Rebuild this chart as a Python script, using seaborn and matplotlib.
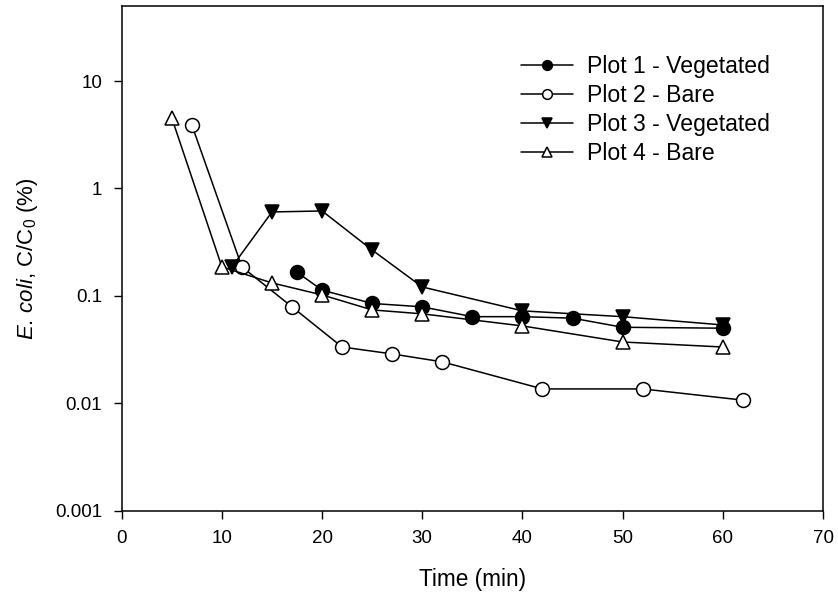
import matplotlib
matplotlib.use("Agg")
import matplotlib.pyplot as plt
import seaborn as sns
import pandas as pd
from matplotlib.ticker import FixedLocator, NullLocator, FixedFormatter

# Data
p1_time = [17.5, 20, 25, 30, 35, 40, 45, 50, 60]
p1_val = [0.166, 0.113, 0.085, 0.079, 0.064, 0.064, 0.062, 0.051, 0.050]
p2_time = [7, 12, 17, 22, 27, 32, 42, 52, 62]
p2_val = [3.90, 0.186, 0.079, 0.0334, 0.0288, 0.0243, 0.0136, 0.0136, 0.0107]
p3_time = [11, 15, 20, 25, 30, 40, 50, 60]
p3_val = [0.186, 0.604, 0.617, 0.267, 0.121, 0.0725, 0.064, 0.0536]
p4_time = [5, 10, 15, 20, 25, 30, 40, 50, 60]
p4_val = [4.53, 0.186, 0.132, 0.102, 0.074, 0.068, 0.0525, 0.0372, 0.0334]
labels = ["Plot 1 - Vegetated", "Plot 2 - Bare", "Plot 3 - Vegetated", "Plot 4 - Bare"]
y_ticks = [0.001, 0.01, 0.1, 1, 10]
y_ticklabels = ["0.001", "0.01", "0.1", "1", "10"]
x_ticks = [0, 10, 20, 30, 40, 50, 60, 70]

sns.set_theme(style="ticks")
plt.rcParams['font.family'] = ['Liberation Sans', 'DejaVu Sans']
plt.rcParams['mathtext.fontset'] = 'custom'
plt.rcParams['mathtext.rm'] = 'Liberation Sans'
plt.rcParams['mathtext.it'] = 'Liberation Sans:italic'

fig = plt.figure(figsize=(8.38, 5.98), dpi=100)
ax = fig.add_axes([121.7/838, 1 - 510.7/598, (823 - 121.7)/838, (510.7 - 6.3)/598])

series = [(p1_time, p1_val, 'o', 'black'),
          (p2_time, p2_val, 'o', 'white'),
          (p3_time, p3_val, 'v', 'black'),
          (p4_time, p4_val, '^', 'white')]
for (t, v, m, fc), lab in zip(series, labels):
    df = pd.DataFrame({"time": t, "val": v})
    sns.lineplot(data=df, x="time", y="val", ax=ax, color='black', linewidth=1.1,
                 marker=m, markersize=10, markerfacecolor=fc, markeredgecolor='black',
                 markeredgewidth=1.1, label=lab, estimator=None, sort=False)

ax.set_yscale('log')
ax.set_ylim(0.001, 49.6)
ax.set_xlim(0, 70)
ax.yaxis.set_major_locator(FixedLocator(y_ticks))
ax.yaxis.set_major_formatter(FixedFormatter(y_ticklabels))
ax.yaxis.set_minor_locator(NullLocator())
ax.set_xticks(x_ticks)
ax.set_xticklabels([str(x) for x in x_ticks])
ax.tick_params(axis='both', which='major', direction='out', length=6, width=1,
               color='black', labelsize=13.5, labelcolor='black', pad=8)
for s in ax.spines.values():
    s.set_visible(True)
    s.set_color('black')
    s.set_linewidth(1.1)
ax.set_facecolor('white')
ax.grid(False)

ax.set_xlabel("Time (min)", fontsize=16.3, color='black', labelpad=15)
ax.set_ylabel(r"$\mathit{E.\,coli}$, C/C$_0$ (%)", fontsize=16, color='black', labelpad=11)

leg = ax.legend(loc='upper left', bbox_to_anchor=(521/838, 1 - 55/598),
                bbox_transform=fig.transFigure, frameon=False, fontsize=16.6,
                markerscale=0.7, handlelength=2.25, handletextpad=0.6,
                labelspacing=0.26, borderpad=0, borderaxespad=0)
for txt in leg.get_texts():
    txt.set_color('black')

fig.savefig("out.png", dpi=100)
